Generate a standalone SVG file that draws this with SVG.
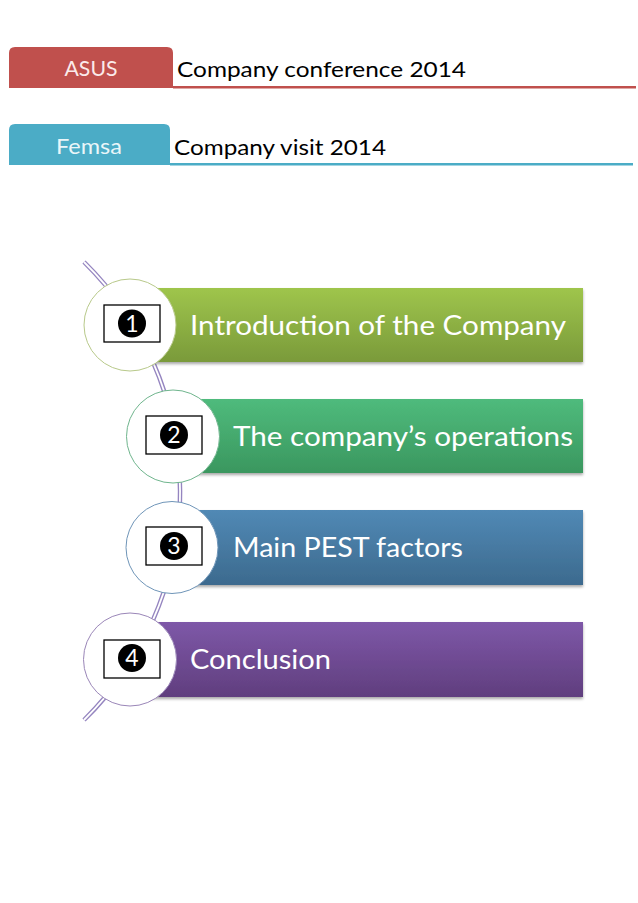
<svg xmlns="http://www.w3.org/2000/svg" width="638" height="903" viewBox="0 0 638 903">
<defs>
<linearGradient id="g1" x1="0" y1="0" x2="0" y2="1"><stop offset="0" stop-color="#9fc54c"/><stop offset="1" stop-color="#7a9a3a"/></linearGradient>
<linearGradient id="g2" x1="0" y1="0" x2="0" y2="1"><stop offset="0" stop-color="#4fbb7c"/><stop offset="1" stop-color="#3a975f"/></linearGradient>
<linearGradient id="g3" x1="0" y1="0" x2="0" y2="1"><stop offset="0" stop-color="#5189b5"/><stop offset="1" stop-color="#3c6a8e"/></linearGradient>
<linearGradient id="g4" x1="0" y1="0" x2="0" y2="1"><stop offset="0" stop-color="#7e58a8"/><stop offset="1" stop-color="#603e7e"/></linearGradient>
<filter id="sh" x="-5%" y="-10%" width="110%" height="130%"><feGaussianBlur in="SourceAlpha" stdDeviation="1.5"/><feOffset dy="2" result="b"/><feComponentTransfer><feFuncA type="linear" slope="0.35"/></feComponentTransfer><feMerge><feMergeNode/><feMergeNode in="SourceGraphic"/></feMerge></filter>
</defs>
<style>
.tabt{font-family:"Lato","Open Sans",sans-serif;font-size:22px;fill:#fbeaea;text-anchor:middle}
.hdr{font-family:"Lato","Open Sans",sans-serif;font-size:22px;fill:#000}
.bt{font-family:"Lato","Open Sans",sans-serif;font-size:27px;fill:#fff}
.num{font-family:"Lato","Open Sans",sans-serif;font-size:23px;fill:#fff;text-anchor:middle}
.box{fill:#fff;stroke:#000;stroke-width:1.3}
</style>
<rect width="638" height="903" fill="#fff"/>
<g id="asus">
<path d="M9 88 V53 Q9 47 15 47 H167 Q173 47 173 53 V88 Z" fill="#c0504d"/>
<rect x="173" y="86" width="463" height="2.5" fill="#c0504d"/>
<text class="tabt" x="91" y="76" textLength="53" lengthAdjust="spacingAndGlyphs">ASUS</text>
<text class="hdr" x="177" y="77" textLength="289" lengthAdjust="spacingAndGlyphs">Company conference 2014</text>
</g>
<g id="femsa">
<path d="M9 165 V130 Q9 124 15 124 H164 Q170 124 170 130 V165 Z" fill="#4bacc6"/>
<rect x="170" y="163" width="463" height="2.5" fill="#4bacc6"/>
<text class="tabt" x="89" y="154" style="fill:#eaf6f9" textLength="66" lengthAdjust="spacingAndGlyphs">Femsa</text>
<text class="hdr" x="174" y="155" textLength="212" lengthAdjust="spacingAndGlyphs">Company visit 2014</text>
</g>
<g id="connectors">
<path d="M84 262 A321 321 0 0 1 84 720" fill="none" stroke="#9585c0" stroke-width="4.5"/>
<path d="M84 262 A321 321 0 0 1 84 720" fill="none" stroke="#fff" stroke-width="1.8"/>
</g>
<g id="item1">
<rect x="150" y="288" width="433" height="74" fill="url(#g1)" filter="url(#sh)"/>
<circle cx="130" cy="325" r="46" fill="#fff" stroke="#b8c98a" stroke-width="1"/>
<rect class="box" x="104" y="305" width="56" height="37"/>
<circle cx="132" cy="323.5" r="14" fill="#000"/>
<text class="num" x="132" y="331.5">1</text>
<text class="bt" x="190" y="335" textLength="376" lengthAdjust="spacingAndGlyphs">Introduction of the Company</text>
</g>
<g id="item2">
<rect x="190" y="399" width="393" height="74" fill="url(#g2)" filter="url(#sh)"/>
<circle cx="173" cy="436.5" r="46.5" fill="#fff" stroke="#6fb58d" stroke-width="1"/>
<rect class="box" x="146" y="416" width="56" height="38"/>
<circle cx="174" cy="435" r="14" fill="#000"/>
<text class="num" x="174" y="443">2</text>
<text class="bt" x="233" y="446" textLength="340" lengthAdjust="spacingAndGlyphs">The company’s operations</text>
</g>
<g id="item3">
<rect x="190" y="510" width="393" height="75" fill="url(#g3)" filter="url(#sh)"/>
<circle cx="172" cy="547.5" r="46" fill="#fff" stroke="#6f95b8" stroke-width="1"/>
<rect class="box" x="146" y="527" width="56" height="38"/>
<circle cx="174" cy="546" r="14" fill="#000"/>
<text class="num" x="174" y="554">3</text>
<text class="bt" x="233" y="557" textLength="230" lengthAdjust="spacingAndGlyphs">Main PEST factors</text>
</g>
<g id="item4">
<rect x="150" y="622" width="433" height="75" fill="url(#g4)" filter="url(#sh)"/>
<circle cx="130" cy="659.5" r="46.5" fill="#fff" stroke="#9a86b8" stroke-width="1"/>
<rect class="box" x="104" y="640" width="56" height="38"/>
<circle cx="132" cy="658" r="14" fill="#000"/>
<text class="num" x="132" y="666">4</text>
<text class="bt" x="190" y="669" textLength="141" lengthAdjust="spacingAndGlyphs">Conclusion</text>
</g>
</svg>
